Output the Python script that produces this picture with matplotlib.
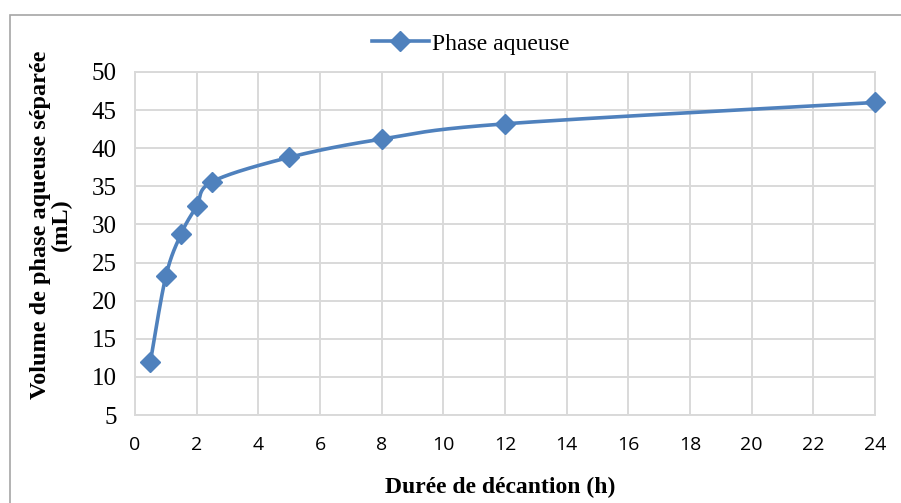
import matplotlib
matplotlib.use("Agg")
import matplotlib.pyplot as plt
import numpy as np
from matplotlib.lines import Line2D
from matplotlib.patches import Rectangle

# Data
durations_h = [0.5, 1, 1.5, 2, 2.5, 5, 8, 12, 24]
volume_ml = [12, 23.2, 28.8, 32.4, 35.6, 38.8, 41.2, 43.2, 46]
series_name = "Phase aqueuse"
x_ticks = list(range(0, 25, 2))
y_ticks = list(range(5, 51, 5))

W, H = 901, 503
fig = plt.figure(figsize=(W / 100, H / 100), dpi=100)
ax = fig.add_axes([135 / W, 1 - 415 / H, (875 - 135) / W, (415 - 72) / H])
ax.set_xlim(0, 24)
ax.set_ylim(5, 50)

blue = "#4F81BD"
grid = "#D9D9D9"

ax.set_xticks(x_ticks)
ax.set_yticks(y_ticks)
ax.grid(True, color=grid, linewidth=1.4)
ax.set_axisbelow(True)
for s in ax.spines.values():
    s.set_color(grid)
    s.set_linewidth(1.4)
ax.tick_params(length=0)
ax.tick_params(axis="x", pad=15)
ax.tick_params(axis="y", pad=13)
for lab in ax.get_xticklabels():
    lab.set_fontfamily("Open Sans")
    lab.set_fontsize(14)
for lab in ax.get_yticklabels():
    lab.set_fontfamily("Liberation Serif")
    lab.set_fontsize(18)

# Smoothed line (Excel-style bezier in display space)
pts = ax.transData.transform(np.column_stack([durations_h, volume_ml]))
n = len(pts)
curve = []
for i in range(n - 1):
    p0 = pts[max(i - 1, 0)]
    p1 = pts[i]
    p2 = pts[i + 1]
    p3 = pts[min(i + 2, n - 1)]
    c1 = p1 + (p2 - p0) / 6
    c2 = p2 - (p3 - p1) / 6
    t = np.linspace(0, 1, 40)[:, None]
    seg = (1 - t) ** 3 * p1 + 3 * (1 - t) ** 2 * t * c1 + 3 * (1 - t) * t ** 2 * c2 + t ** 3 * p2
    curve.append(seg if i == 0 else seg[1:])
curve = np.vstack(curve)
cd = ax.transData.inverted().transform(curve)
ax.plot(cd[:, 0], cd[:, 1], color=blue, linewidth=2.6, solid_capstyle="round",
        zorder=3, clip_on=False)
ax.plot(durations_h, volume_ml, linestyle="none", marker="D", markersize=10,
        color=blue, zorder=4, clip_on=False)

fig.text(500 / W, 1 - 487 / H, "Durée de décantion (h)", family="Liberation Serif",
         weight="bold", size=17, ha="center", va="center")
fig.text(51 / W, 1 - 225 / H, "Volume de phase aqueuse séparée\n(mL)",
         family="Liberation Serif", weight="bold", size=17.5, ha="center",
         va="center", rotation=90, multialignment="center", linespacing=1.0)

handle = Line2D([], [], color=blue, linewidth=2.6, marker="D", markersize=10)
leg = fig.legend([handle], [series_name], loc="center", bbox_to_anchor=(471 / W, 1 - 44 / H),
                 frameon=False, prop={"family": "Liberation Serif", "size": 17},
                 handlelength=2.4, handletextpad=0.15)

fig.patches.append(Rectangle((10 / W, -0.1), 1.2, 1.1 - 15 / H, transform=fig.transFigure,
                             fill=False, edgecolor="#A6A6A6", linewidth=1.2))

fig.savefig("out.png", dpi=100)
